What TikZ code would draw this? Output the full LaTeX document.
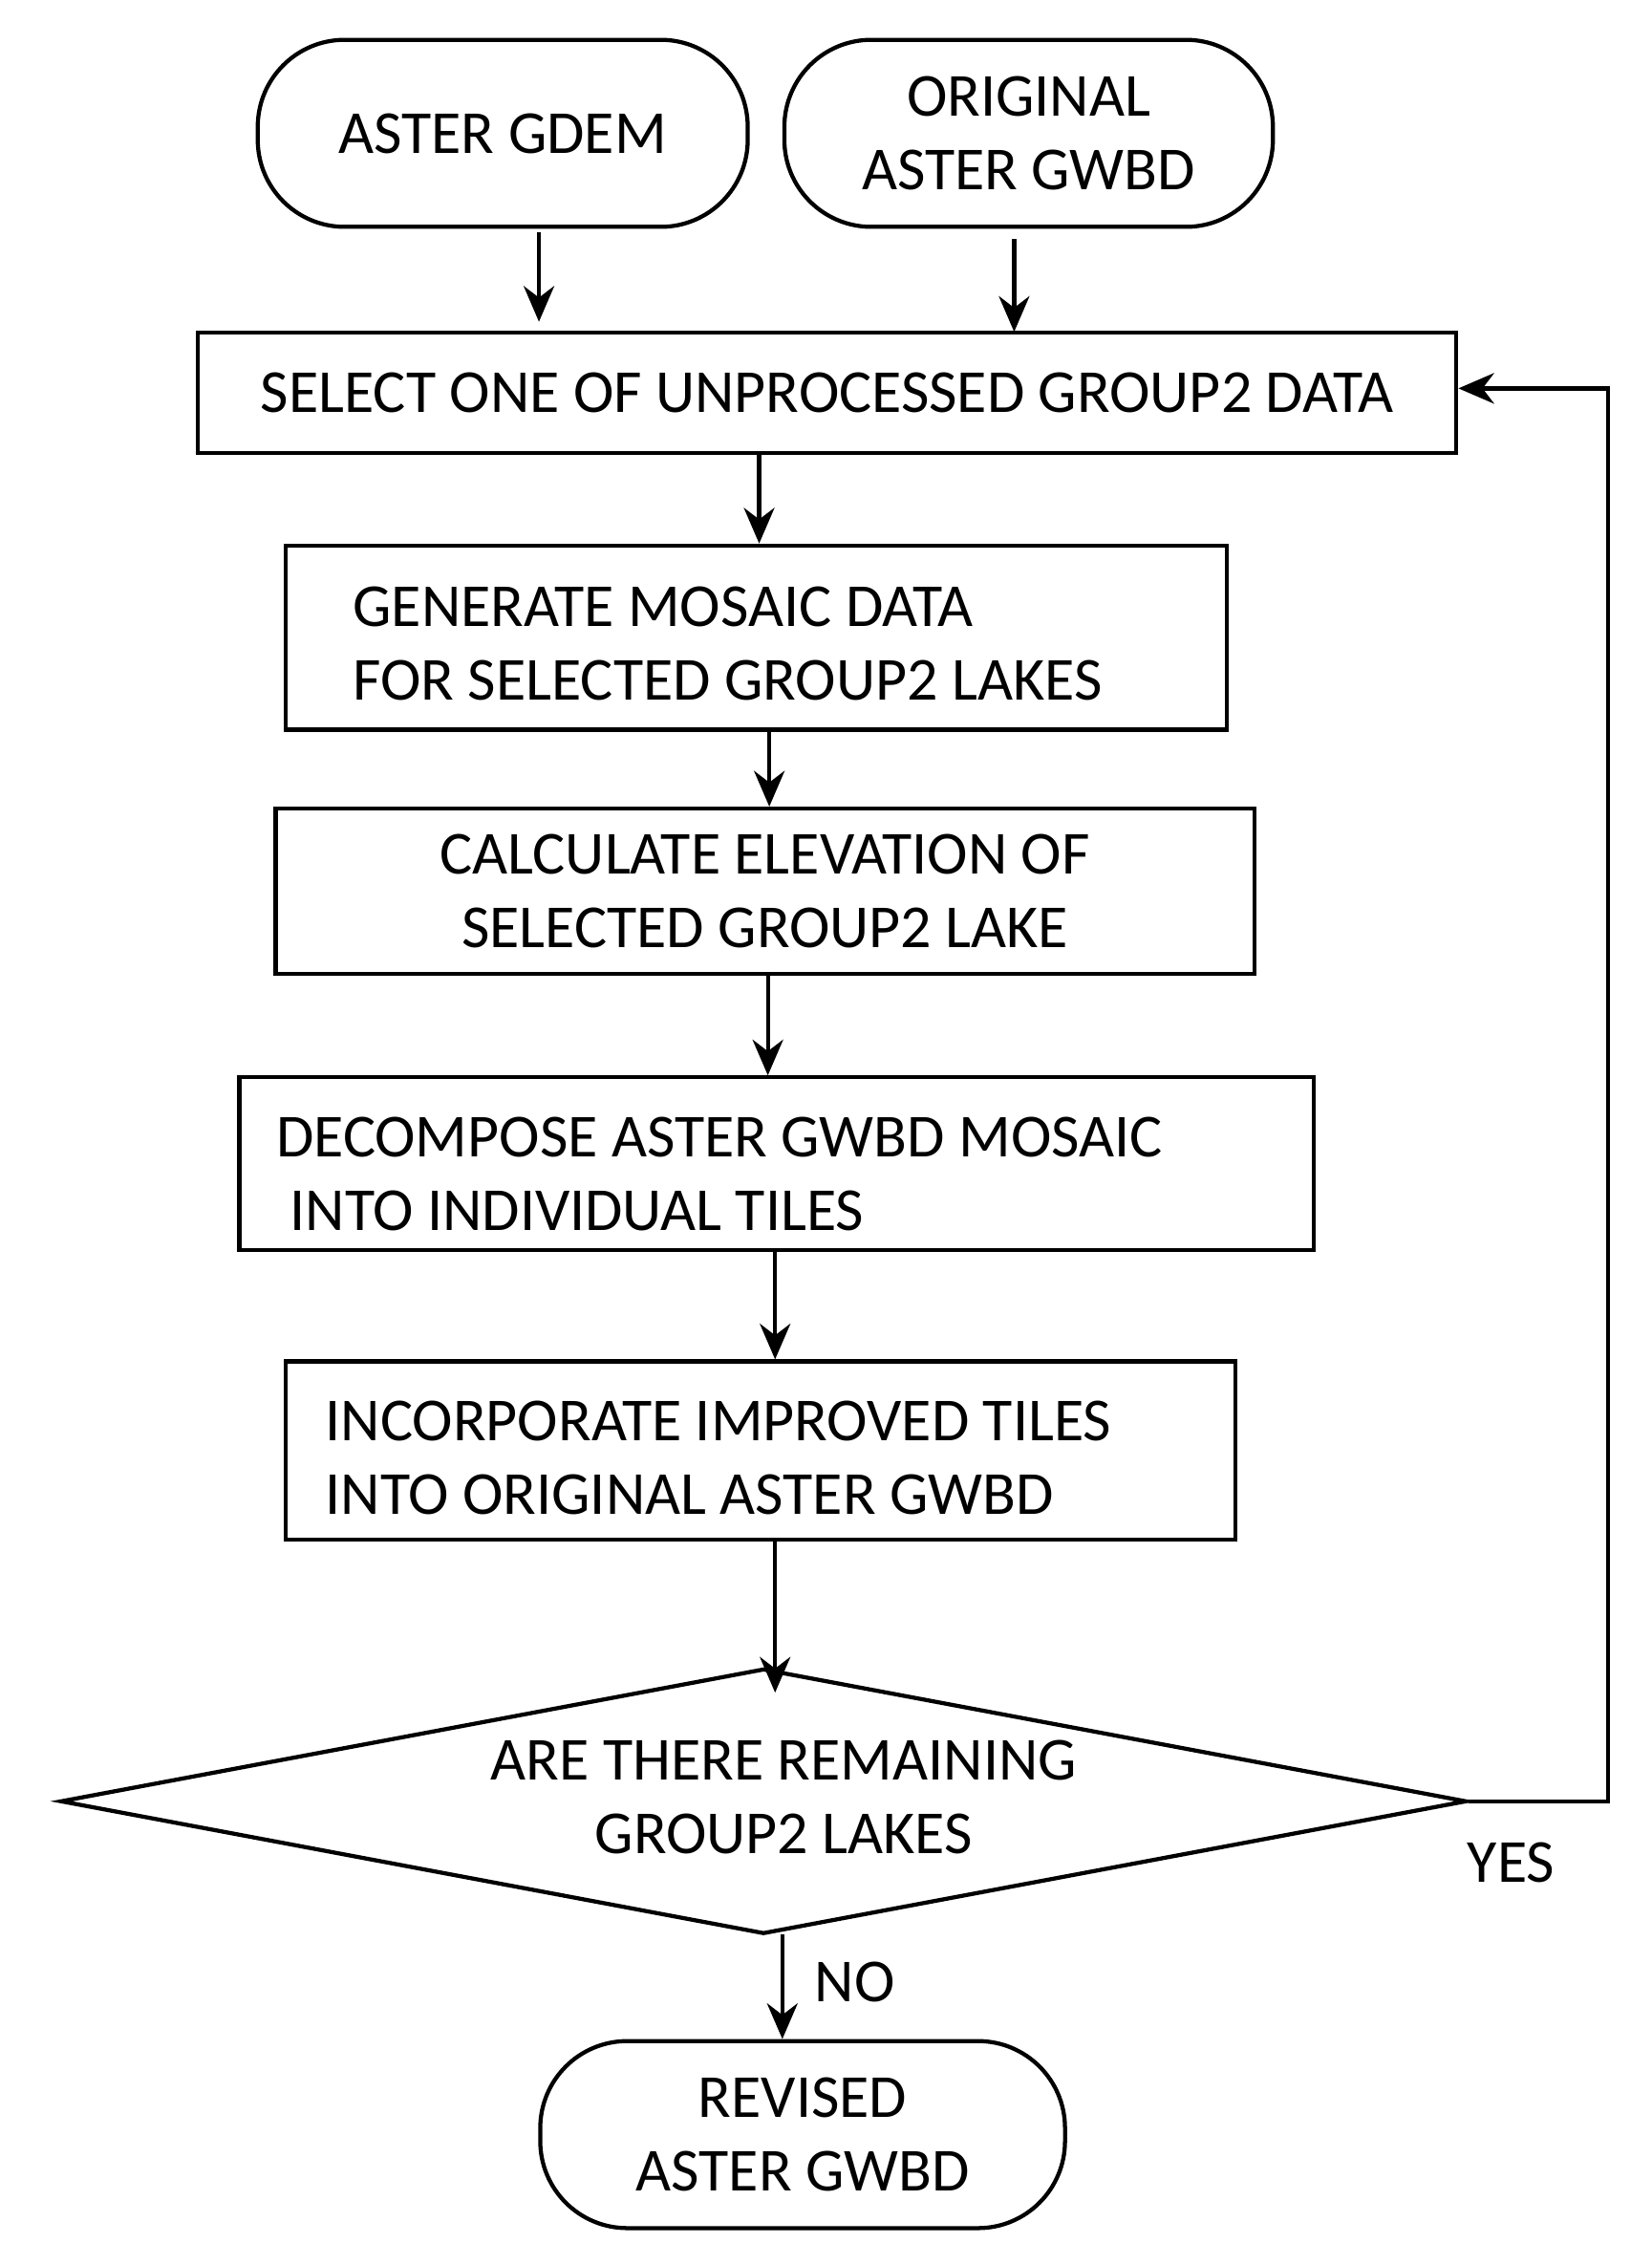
\documentclass[tikz,border=0pt]{standalone}
\usepackage{fontspec}
\setmainfont{Carlito}
\usetikzlibrary{shapes.geometric,arrows.meta}
\begin{document}
\begin{tikzpicture}[x=0.01cm,y=-0.01cm,
  every node/.style={font=\fontsize{12}{14.5}\selectfont},
  term/.style={draw,rounded corners=0.6cm,line width=0.8pt,align=center,inner sep=0},
  box/.style={draw,line width=0.8pt,inner sep=0},
  lt/.style={align=left,anchor=west,inner sep=0},
  arr/.style={-{Stealth[length=7pt,width=6pt]},line width=0.8pt}]
\useasboundingbox (0,0) rectangle (1140,1563);
\node[term,minimum width=3.38cm,minimum height=1.29cm] (gdem) at (347,92) {ASTER GDEM};
\node[term,minimum width=3.37cm,minimum height=1.29cm] (gwbd) at (710,92) {ORIGINAL\\ASTER GWBD};
\node[box,minimum width=8.68cm,minimum height=0.83cm] (sel) at (571,271) {SELECT ONE OF UNPROCESSED GROUP2 DATA};
\node[box,minimum width=6.49cm,minimum height=1.27cm] (gen) at (522,440) {};
\node[lt] (gent) at (243,444) {GENERATE MOSAIC DATA\\FOR SELECTED GROUP2 LAKES};
\node[box,minimum width=6.75cm,minimum height=1.14cm,align=center] (calc) at (528,615) {CALCULATE ELEVATION OF\\SELECTED GROUP2 LAKE};
\node[box,minimum width=7.41cm,minimum height=1.19cm] (dec) at (536,803) {};
\node[lt] (dect) at (190,810) {DECOMPOSE ASTER GWBD MOSAIC\\\ INTO INDIVIDUAL TILES};
\node[box,minimum width=6.55cm,minimum height=1.23cm] (inc) at (525,1001) {};
\node[lt] (inct) at (224,1006) {INCORPORATE IMPROVED TILES\\INTO ORIGINAL ASTER GWBD};
\node[draw,diamond,line width=0.8pt,minimum width=9.7cm,minimum height=1.83cm,aspect=5.3,inner sep=0] (dia) at (527,1243) {};
\node[align=center] (diat) at (541,1240) {ARE THERE REMAINING\\GROUP2 LAKES};
\node[term,minimum width=3.62cm,minimum height=1.29cm] (rev) at (554,1473) {REVISED\\ASTER GWBD};
\coordinate (c1) at (1110,1243);
\coordinate (c2) at (1110,268);
\draw[arr] (372,160) -- (372,222);
\draw[arr] (700,165) -- (700,229);
\draw[arr] (524,313) -- (gen.north -| 524,0);
\draw[arr] (531,503) -- (calc.north -| 531,0);
\draw[arr] (530,672) -- (dec.north -| 530,0);
\draw[arr] (535,863) -- (inc.north -| 535,0);
\draw[arr] (535,1063) -- (535,1168);
\draw[arr] (dia.east) -- (c1) -- (c2) -- (sel.east |- c2);
\draw[arr] (540,1335) -- (rev.north -| 540,0);
\node (yes) at (1043,1285) {YES};
\node (no) at (590,1368) {NO};
\end{tikzpicture}
\end{document}
